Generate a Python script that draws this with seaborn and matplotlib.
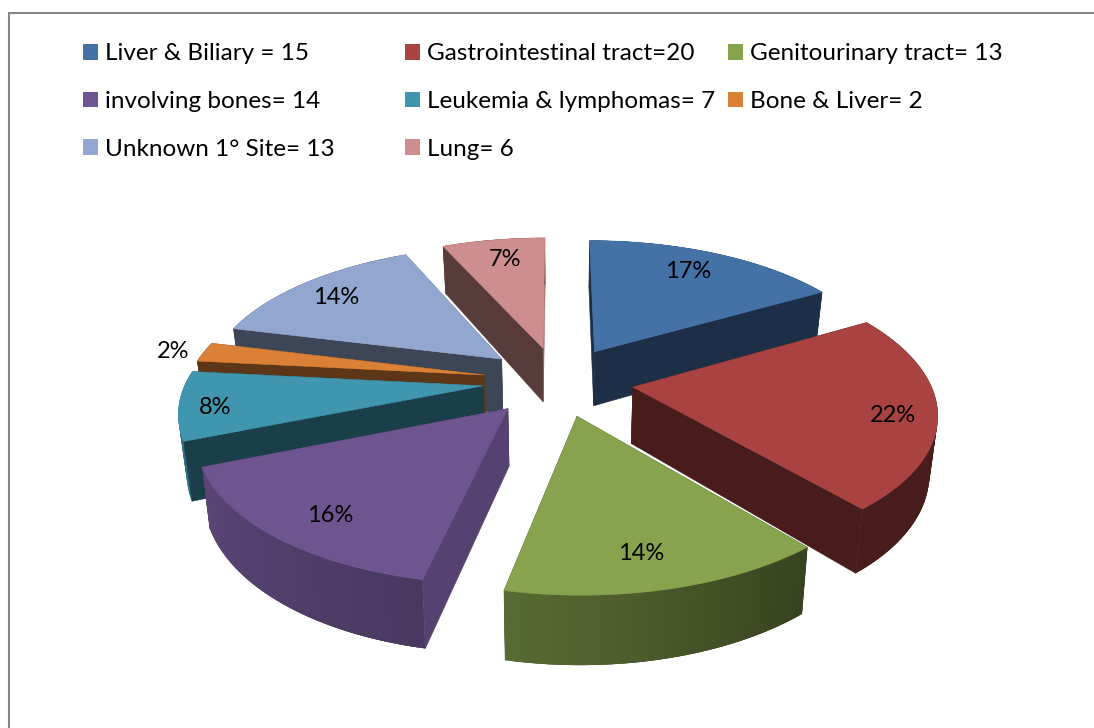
import numpy as np
import matplotlib
matplotlib.use("Agg")
import matplotlib.pyplot as plt
from matplotlib.patches import Patch
import seaborn as sns

categories = ["Liver & Biliary", "Gastrointestinal tract", "Genitourinary tract", "involving bones",
              "Leukemia & lymphomas", "Bone & Liver", "Unknown 1° Site", "Lung"]
values = [15, 20, 13, 14, 7, 2, 13, 6]
legend_labels = ["Liver & Biliary = 15", "Gastrointestinal tract=20", "Genitourinary tract= 13",
                 "involving bones= 14", "Leukemia & lymphomas= 7", "Bone & Liver= 2",
                 "Unknown 1° Site= 13", "Lung= 6"]
hex_colors = ["#4471A6", "#A84341", "#87A34E", "#6F5590", "#3F96AE", "#DA8137", "#92A7CF", "#CE8E8D"]

sns.set_theme(style="white")
plt.rcParams["font.family"] = ["Lato", "DejaVu Sans"]
palette = sns.color_palette(hex_colors)

# style: projection of the tilted pie, outer wall shading and label anchors (pixels)
CX, CY, BX, AY, K, H = 558, 381, 302, 140, 0.163, 56
EXPLODE = 0.25
RADIUS = 0.982
CONVERGE = 0.022
arc_shade = [(.45, .45), (.42, .42), (.40, .66), (.66, .82), (.75, .75), (.45, .45), (.45, .45), (.45, .45)]
label_xy = [(688, 272), (893, 415), (641, 554), (330, 516), (215, 408), (173, 352), (336, 298), (505, 260)]


def project(x, y, z=0.0):
    f = 1 / (1 + K * y)
    return CX + BX * x * f * (1 - CONVERGE * z), CY - AY * y * f + H * f * z


def radial_shade(theta_normal):
    return 0.42 + 0.40 * np.clip((np.sin(theta_normal) - 0.8) / 0.2, 0, 1)


def shaded(color, s):
    return tuple(np.array(color) * s)


fig = plt.figure(figsize=(10.94, 7.28), dpi=100)
ax = fig.add_axes([0, 0, 1, 1])
ax.set_xlim(0, 1094)
ax.set_ylim(728, 0)
ax.axis("off")

ax.plot([8.5, 8.5, 1094], [728, 12.5, 12.5], color="#868686", lw=1.5, solid_joinstyle="miter")

vals = np.array(values, dtype=float)
edges = np.radians(np.concatenate([[0], np.cumsum(vals)]) / vals.sum() * 360)
slices = []
for i in range(len(vals)):
    mid = (edges[i] + edges[i + 1]) / 2
    slices.append((EXPLODE * np.cos(mid), i, mid))

N = 60
for _, i, mid in sorted(slices, reverse=True):
    col = palette[i]
    t0, t1 = edges[i], edges[i + 1]
    ox, oy = EXPLODE * np.sin(mid), EXPLODE * np.cos(mid)
    th = np.linspace(t0, t1, N)
    wx, wy = ox + RADIUS * np.sin(th), oy + RADIUS * np.cos(th)
    s0, s1 = arc_shade[i]

    walls = []
    for t, normal in ((t0, t0 - np.pi / 2), (t1, t1 + np.pi / 2)):
        ex, ey = ox + RADIUS * np.sin(t), oy + RADIUS * np.cos(t)
        p = [project(ox, oy), project(ex, ey), project(ex, ey, 1), project(ox, oy, 1)]
        walls.append((np.cos(normal) < -1e-6, p, shaded(col, radial_shade(normal))))

    def draw_walls(front):
        for is_front, p, c in walls:
            if is_front == front:
                xs, ys = zip(*p)
                ax.fill(xs, ys, facecolor=c, edgecolor=c, lw=0.4)

    draw_walls(False)

    # outer wall: a stack of overlapping strips, so no seams show between them
    order = sorted(range(N - 1), key=lambda j: -(wy[j] + wy[j + 1]))
    for j in order:
        k = min(j + 2, N - 1)
        lo = max(j - 1, 0)
        p = [project(wx[lo], wy[lo]), project(wx[k], wy[k]), project(wx[k], wy[k], 1), project(wx[lo], wy[lo], 1)]
        xs, ys = zip(*p)
        ax.fill(xs, ys, facecolor=shaded(col, s0 + (s1 - s0) * j / (N - 2)), edgecolor="none", lw=0)

    draw_walls(True)

    # top face
    tx, ty = project(np.r_[ox, wx], np.r_[oy, wy])
    ax.fill(tx, ty, facecolor=col, edgecolor=col, lw=0.4)

for i, (x, y) in enumerate(label_xy):
    ax.text(x, y, f"{vals[i] / vals.sum() * 100:.0f}%", ha="center", va="center",
            fontsize=17, color="black")

# legend: three left-aligned columns, rows read left to right
col_x = [75.7, 398.2, 721.2]
for c, x in enumerate(col_x):
    idx = range(c, len(categories), 3)
    handles = [Patch(facecolor=palette[k], edgecolor="none") for k in idx]
    labels = [legend_labels[k] for k in idx]
    leg = ax.legend(handles, labels, loc="upper left", bbox_to_anchor=(x, 36), bbox_transform=ax.transData,
                    frameon=False, fontsize=17.5, handlelength=0.61, handleheight=0.61,
                    handletextpad=0.29, labelspacing=1.1, borderpad=0.3, borderaxespad=0)
    for t in leg.get_texts():
        t.set_color("black")
    ax.add_artist(leg)
ax.legend_ = None

fig.savefig("out.png", dpi=100, facecolor="white")
